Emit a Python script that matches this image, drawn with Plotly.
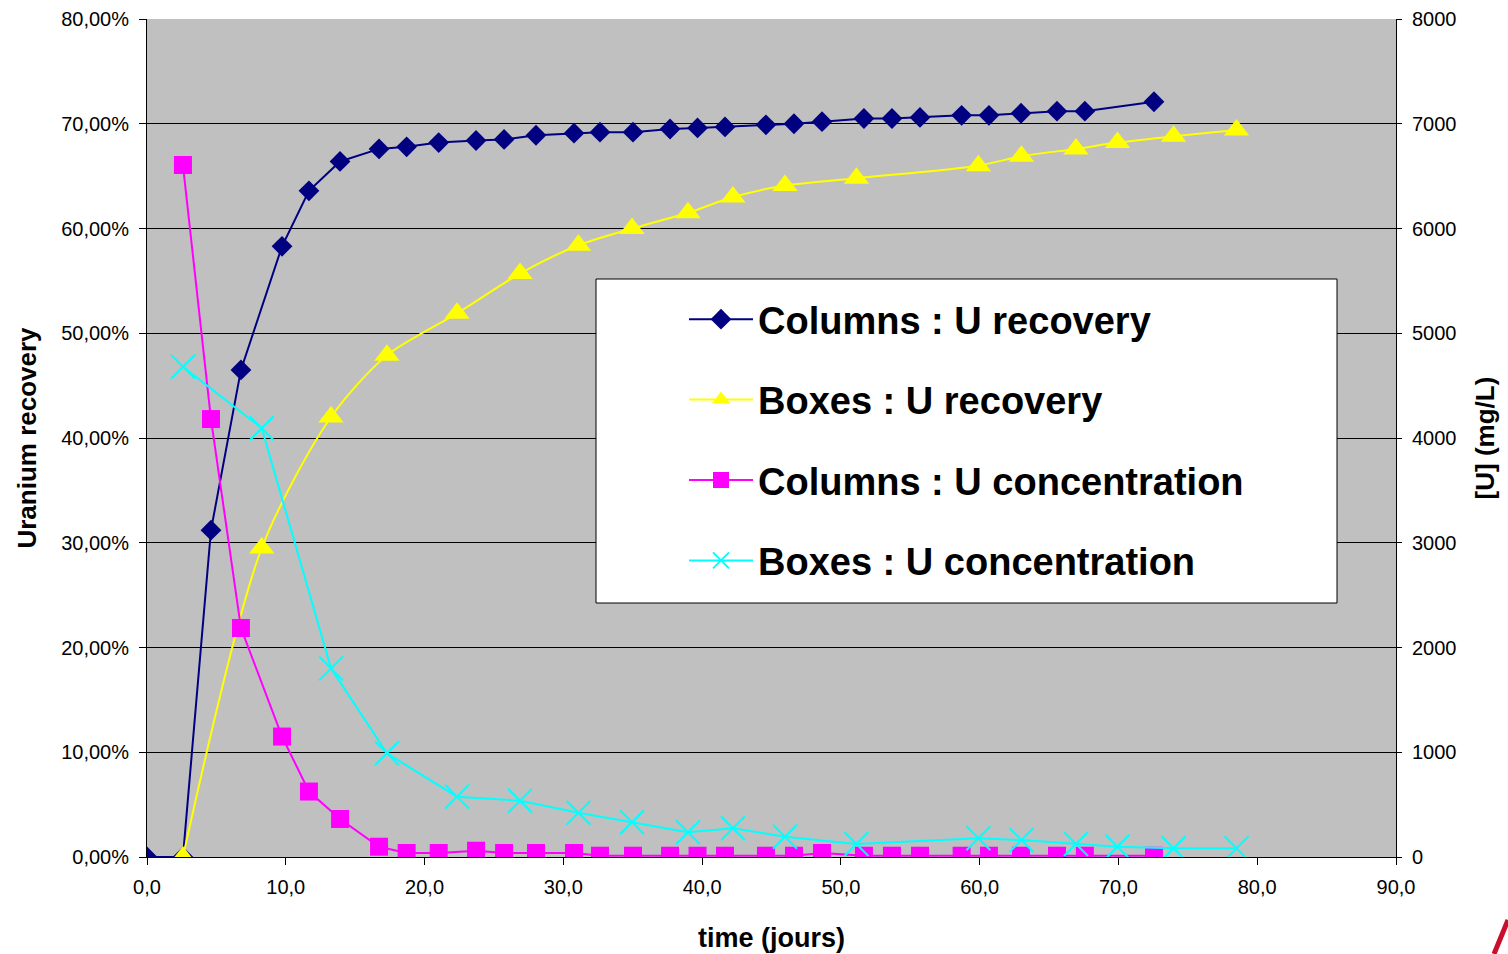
import plotly.graph_objects as go

# ---- data ----
col_time = [0, 2.59, 4.61, 6.77, 9.73, 11.67, 13.91, 16.72, 18.71, 21.02, 23.71, 25.73,
            28.03, 30.77, 32.64, 35.02, 37.69, 39.67, 41.65, 44.60, 46.62, 48.64, 51.66,
            53.68, 55.70, 58.70, 60.67, 62.98, 65.57, 67.58, 72.56]
col_recovery = [0.0, 0.0, 31.2, 46.5, 58.3, 63.6, 66.4, 67.6, 67.8, 68.2, 68.4, 68.5,
                68.9, 69.1, 69.2, 69.2, 69.5, 69.6, 69.7, 69.9, 70.0, 70.2, 70.5,
                70.5, 70.6, 70.8, 70.8, 71.0, 71.2, 71.2, 72.1]
col_conc = [None, 6606, 4181, 2186, 1150, 625, 363, 98, 38, 38, 60, 38,
            38, 38, 12, 12, 12, 12, 12, 12, 12, 38, 12,
            12, 12, 12, 12, 12, 12, 12, 12]

box_time = [2.59, 8.27, 13.26, 17.29, 22.34, 26.88, 31.09, 34.95, 38.98, 42.22, 45.97,
            51.12, 59.91, 63.01, 66.94, 69.93, 73.97, 78.51]
box_recovery = [0.0, 29.5, 42.0, 47.9, 51.9, 55.7, 58.4, 60.0, 61.5, 63.0, 64.1,
                64.8, 66.0, 66.9, 67.6, 68.2, 68.8, 69.4]
box_conc = [4681, 4093, 1801, 990, 576, 537, 423, 331, 236, 274, 194,
            124, 179, 162, 124, 98, 83, 83]

x_ticks = [0, 10, 20, 30, 40, 50, 60, 70, 80, 90]
x_ticktext = ["0,0", "10,0", "20,0", "30,0", "40,0", "50,0", "60,0", "70,0", "80,0", "90,0"]
y_ticks = [0, 10, 20, 30, 40, 50, 60, 70, 80]
y_ticktext = ["0,00%", "10,00%", "20,00%", "30,00%", "40,00%", "50,00%", "60,00%", "70,00%", "80,00%"]
y2_ticks = [0, 1000, 2000, 3000, 4000, 5000, 6000, 7000, 8000]
y2_ticktext = ["0", "1000", "2000", "3000", "4000", "5000", "6000", "7000", "8000"]

FONT = "Liberation Sans, Arial, sans-serif"

fig = go.Figure()
fig.add_trace(go.Scatter(
    x=col_time, y=col_recovery, name="Columns : U recovery", legendgroup="a",
    mode="lines+markers", line=dict(color="#000080", width=2),
    marker=dict(symbol="diamond", size=16, color="#000080"), yaxis="y"))
fig.add_trace(go.Scatter(
    x=box_time, y=box_recovery, name="Boxes : U recovery", legendgroup="b",
    mode="lines+markers", line=dict(color="#FFFF00", width=2, shape="spline", smoothing=0.8),
    marker=dict(symbol="triangle-up", size=22, color="#FFFF00"), yaxis="y"))
fig.add_trace(go.Scatter(
    x=col_time, y=col_conc, name="Columns : U concentration", legendgroup="c",
    mode="lines+markers", line=dict(color="#FF00FF", width=2),
    marker=dict(symbol="square", size=18, color="#FF00FF"), yaxis="y2"))
fig.add_trace(go.Scatter(
    x=box_time, y=box_conc, name="Boxes : U concentration", legendgroup="d",
    mode="lines+markers", line=dict(color="#00FFFF", width=2),
    marker=dict(symbol="x-thin", size=24, color="#00FFFF",
                line=dict(color="#00FFFF", width=2)), yaxis="y2"))

W, H = 1508, 954
L, R, T, B = 147, 112, 19, 97
pw, ph = W - L - R, H - T - B


def px(xp):
    return (xp - L) / pw


def py(yp):
    return (H - B - yp) / ph


fig.update_layout(
    width=W, height=H,
    margin=dict(l=L, r=R, t=T, b=B, pad=0, autoexpand=False),
    paper_bgcolor="white", plot_bgcolor="#C0C0C0",
    font=dict(family=FONT, color="black", size=20),
    showlegend=True,
    legend=dict(
        x=px(684), y=py(288), xanchor="left", yanchor="top",
        bgcolor="rgba(0,0,0,0)", borderwidth=0,
        font=dict(family=FONT, size=38, color="black", weight="bold"),
        traceorder="grouped", tracegroupgap=28, itemwidth=64, itemsizing="trace",
    ),
    xaxis=dict(
        range=[0, 90], tickvals=x_ticks, ticktext=x_ticktext, automargin=False,
        showgrid=False, zeroline=False, showline=True, linecolor="black", linewidth=1,
        ticks="outside", ticklen=7, tickcolor="black", tickfont=dict(size=20),
        ticklabelstandoff=5,
        title=dict(text="<b>time (jours)</b>", font=dict(size=27), standoff=31),
    ),
    yaxis=dict(
        range=[0, 80], tickvals=y_ticks, ticktext=y_ticktext, automargin=False,
        showgrid=True, gridcolor="black", gridwidth=1, zeroline=False,
        showline=True, linecolor="black", linewidth=1,
        ticks="outside", ticklen=7, tickcolor="black", tickfont=dict(size=20),
        ticklabelstandoff=6,
        title=dict(text="<b>Uranium recovery</b>", font=dict(size=26), standoff=17),
    ),
    yaxis2=dict(
        range=[0, 8000], tickvals=y2_ticks, ticktext=y2_ticktext, automargin=False,
        overlaying="y", side="right", showgrid=False, zeroline=False,
        showline=True, linecolor="black", linewidth=1,
        ticks="outside", ticklen=5, tickcolor="black", tickfont=dict(size=20),
        ticklabelstandoff=6,
        title=dict(text="<b>[U] (mg/L)</b>", font=dict(size=26), standoff=20),
    ),
    shapes=[
        dict(type="rect", xref="paper", yref="paper", layer="above",
             x0=px(596), x1=px(1337), y0=py(603), y1=py(279),
             fillcolor="white", line=dict(color="black", width=1)),
        dict(type="line", xref="paper", yref="paper", layer="above",
             x0=px(1494), y0=py(954), x1=px(1508), y1=py(920),
             line=dict(color="#C8102E", width=5)),
    ],
)

fig.write_html("out.html")
